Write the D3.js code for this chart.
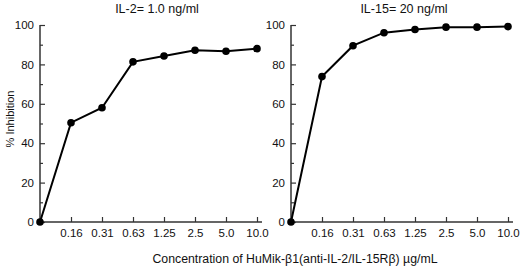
<!DOCTYPE html>
<html>
<head>
<meta charset="utf-8">
<script src="https://cdn.jsdelivr.net/npm/d3@7"></script>
<style>
  body { margin: 0; background: #fff; }
  svg { display: block; font-family: "Liberation Sans", Arial, sans-serif; }
</style>
</head>
<body>
<script>
// concentrations (ug/mL), first point is the zero control
let concLabels = ['', '0.16', '0.31', '0.63', '1.25', '2.5', '5.0', '10.0']
let il2Values = [0, 50.4, 58, 81.3, 84.3, 87.2, 86.7, 88]
let il15Values = [0, 73.8, 89.5, 96.1, 97.7, 98.9, 98.9, 99.2]
let yTicks = [0, 20, 40, 60, 80, 100]
let yMinor = [10, 30, 50, 70, 90]

let width = 520
let height = 269

const svg = d3.select('body')
  .append('svg')
  .attr('width', width)
  .attr('height', height)

const yScl = d3.scaleLinear()
  .domain([0, 100])
  .range([222, 25])

let panels = [
  { title: 'IL-2= 1.0 ng/ml', values: il2Values, left: 40, right: 257, titleX: 157 },
  { title: 'IL-15= 20 ng/ml', values: il15Values, left: 291, right: 508, titleX: 404 }
]

panels.forEach((p) => {
  const xScl = d3.scaleLinear()
    .domain([0, concLabels.length - 1])
    .range([p.left, p.right])

  const g = svg.append('g')

  // y axis
  const yAxis = d3.axisLeft(yScl)
    .tickValues(yTicks)
    .tickSize(-5)
    .tickSizeOuter(0)
    .tickPadding(6)

  g.append('g')
    .attr('transform', `translate(${p.left},0)`)
    .call(yAxis)
    .call((a) => a.select('.domain').remove())
    .call((a) => a.selectAll('text').attr('font-size', 11.5).attr('fill', '#111').attr('font-family', null))
    .call((a) => a.selectAll('line').attr('stroke', '#333').attr('stroke-width', 1.2))

  g.append('g')
    .attr('transform', `translate(${p.left},0)`)
    .call(d3.axisLeft(yScl).tickValues(yMinor).tickSize(-3).tickFormat(''))
    .call((a) => a.select('.domain').remove())
    .call((a) => a.selectAll('line').attr('stroke', '#333').attr('stroke-width', 1.2))

  g.append('line')
    .attr('x1', p.left).attr('x2', p.left)
    .attr('y1', yScl(0)).attr('y2', yScl(100))
    .attr('stroke', '#333')
    .attr('stroke-width', 1.5)

  // x axis
  const xAxis = d3.axisBottom(xScl)
    .tickValues(d3.range(1, concLabels.length))
    .tickFormat((i) => concLabels[i])
    .tickSize(-5)
    .tickSizeOuter(0)
    .tickPadding(7)

  g.append('g')
    .attr('transform', `translate(0,${yScl(0)})`)
    .call(xAxis)
    .call((a) => a.select('.domain').remove())
    .call((a) => a.selectAll('text').attr('font-size', 11.5).attr('fill', '#111').attr('font-family', null))
    .call((a) => a.selectAll('line').attr('stroke', '#333').attr('stroke-width', 1.2))

  g.append('line')
    .attr('x1', p.left).attr('x2', xScl(concLabels.length - 1) + 5)
    .attr('y1', yScl(0)).attr('y2', yScl(0))
    .attr('stroke', '#333')
    .attr('stroke-width', 1.5)

  // data line + markers
  const line = d3.line()
    .x((d, i) => xScl(i))
    .y((d) => yScl(d))

  g.append('path')
    .datum(p.values)
    .attr('d', line)
    .attr('fill', 'none')
    .attr('stroke', '#000')
    .attr('stroke-width', 2)

  g.selectAll('circle')
    .data(p.values)
    .join('circle')
    .attr('cx', (d, i) => xScl(i))
    .attr('cy', (d) => yScl(d))
    .attr('r', 3.8)
    .attr('fill', '#000')

  g.append('text')
    .attr('x', p.titleX)
    .attr('y', 13)
    .attr('text-anchor', 'middle')
    .attr('font-size', 12.5)
    .attr('fill', '#111')
    .text(p.title)
})

svg.append('text')
  .attr('transform', 'translate(14,119) rotate(-90)')
  .attr('text-anchor', 'middle')
  .attr('font-size', 11)
  .attr('fill', '#111')
  .text('% Inhibition')

svg.append('text')
  .attr('x', 295)
  .attr('y', 263)
  .attr('text-anchor', 'middle')
  .attr('font-size', 12.3)
  .attr('fill', '#111')
  .text('Concentration of HuMik-β1(anti-IL-2/IL-15Rβ) µg/mL')
</script>
</body>
</html>
